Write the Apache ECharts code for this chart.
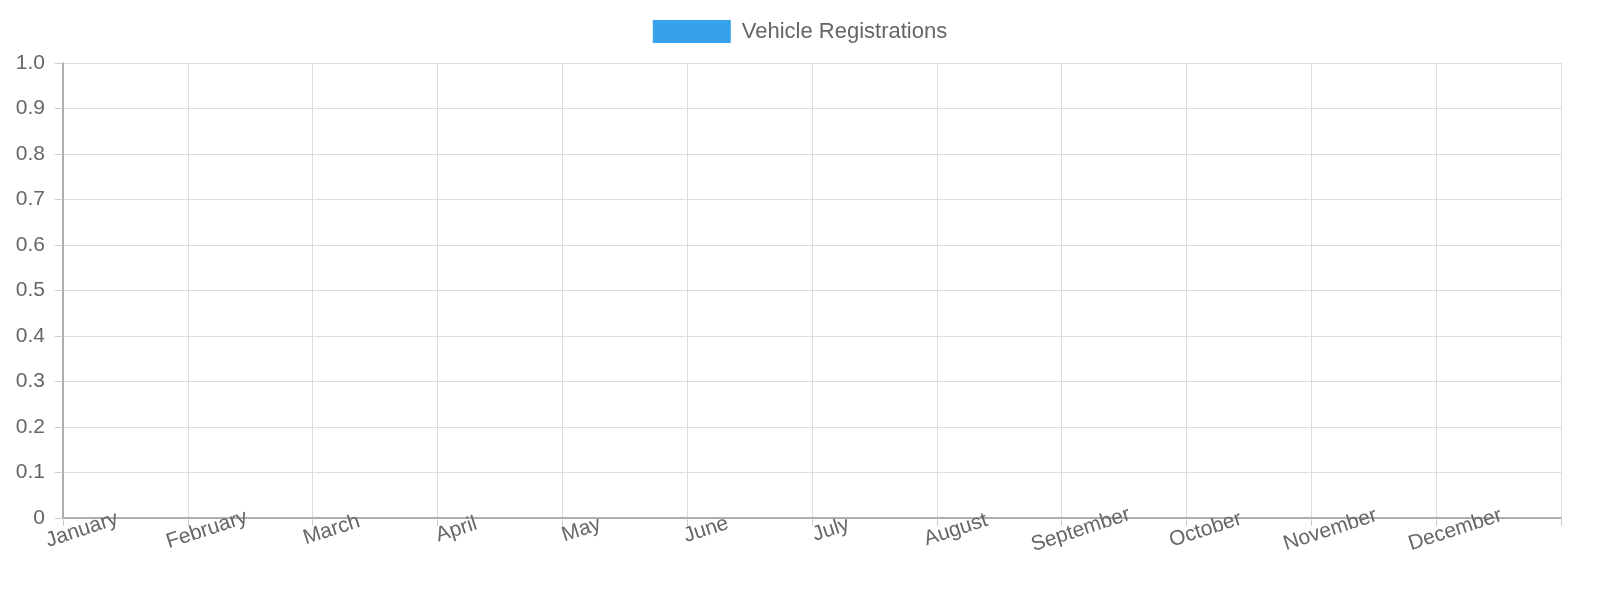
<!DOCTYPE html>
<html><head><meta charset="utf-8">
<script src="https://cdn.jsdelivr.net/npm/echarts@6/dist/echarts.min.js"></script>
<style>html,body{margin:0;padding:0;background:#fff}#c{width:1600px;height:600px}</style>
</head><body><div id="c"></div>
<script>
const categories = ["January","February","March","April","May","June","July","August","September","October","November","December",""];
const registrations = [null,null,null,null,null,null,null,null,null,null,null,null,null];
const yTicks = {min:0,max:1,interval:0.1};

const chart = echarts.init(document.getElementById('c'));
chart.setOption({
  animation:false,
  textStyle:{fontFamily:'Liberation Sans, Arial, sans-serif'},
  legend:{top:15,left:'center',itemWidth:78,itemHeight:23,itemGap:10,
    icon:'rect',
    textStyle:{fontSize:22,color:'#666',padding:[0,0,0,6]},data:['Vehicle Registrations']},
  grid:{left:63,right:39,top:63,bottom:82,containLabel:false,outerBoundsMode:'none'},
  xAxis:{type:'category',data:categories,boundaryGap:false,
    axisLine:{lineStyle:{color:'#999',width:1.5}},
    axisTick:{show:true,length:8,lineStyle:{color:'#ccc'}},
    axisLabel:{rotate:18,fontSize:21,color:'#666',interval:0,margin:18,align:'center',
      padding:[0,0,0,40]},
    splitLine:{show:true,lineStyle:{color:'#ddd'}}},
  yAxis:{type:'value',min:yTicks.min,max:yTicks.max,interval:yTicks.interval,
    axisLine:{show:true,lineStyle:{color:'#999',width:1.5}},
    axisTick:{show:true,length:8,lineStyle:{color:'#ccc'}},
    axisLabel:{fontSize:21,color:'#666',margin:18,formatter:v=>v===0?'0':v.toFixed(1)},
    splitLine:{lineStyle:{color:'#ddd'}}},
  series:[{name:'Vehicle Registrations',type:'bar',data:registrations,
    itemStyle:{color:'#36A2EB'}}]
});
</script></body></html>
